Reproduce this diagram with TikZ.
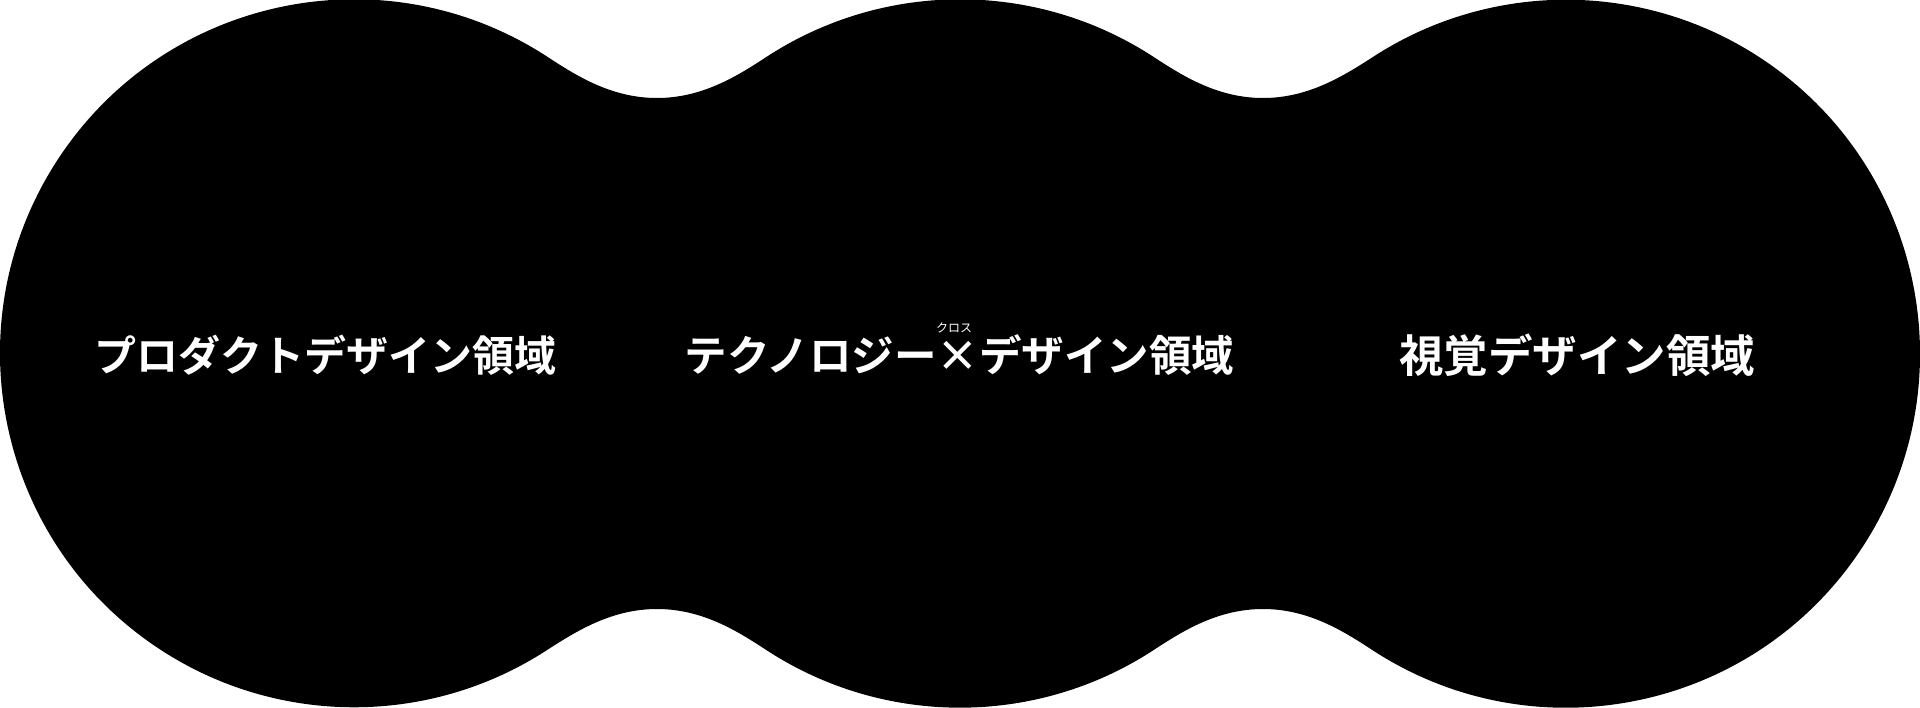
\documentclass[tikz,border=0pt]{standalone}
\usepackage{fontspec}
\newfontfamily\jpfont{Noto Sans CJK JP}[BoldFont=* Bold]
\begin{document}
\begin{tikzpicture}[x=1pt,y=1pt]
    \tikzstyle{every node}+=[inner sep=0pt, text=white]
    \tikzstyle{area}=[font=\jpfont\bfseries\fontsize{42}{42}\selectfont]
    \tikzstyle{ruby}=[font=\jpfont\fontsize{12}{12}\selectfont]
    \useasboundingbox (0,0) rectangle (1920,-707);
    \fill [white] (0,0) rectangle (1920,-707);
    \fill [black] (548,-57.2) arc (56.77:303.23:354)
        .. controls (577.3,-630.6) and (612,-609) .. (657,-609)
        .. controls (702,-609) and (736.7,-630.6) .. (766,-649.8)
        arc (236.77:303.23:354)
        .. controls (1183.3,-630.6) and (1218,-609) .. (1263,-609)
        .. controls (1308,-609) and (1342.7,-630.6) .. (1372,-649.8)
        arc (-123.23:123.23:354)
        .. controls (1342.7,-76.4) and (1308,-98) .. (1263,-98)
        .. controls (1218,-98) and (1183.3,-76.4) .. (1154,-57.2)
        arc (56.77:123.23:354)
        .. controls (736.7,-76.4) and (702,-98) .. (657,-98)
        .. controls (612,-98) and (577.3,-76.4) .. (548,-57.2) -- cycle;
    \node [area] (product) at (325.5,-355) {プロダクトデザイン領域};
    \node [area, font=\jpfont\bfseries\fontsize{42.5}{42.5}\selectfont] (techno) at (959.5,-355) {テクノロジー\makebox[1em]{×}デザイン領域};
    \node [ruby] (cross) at (954,-328) {クロス};
    \node [area, font=\jpfont\bfseries\fontsize{44.5}{44.5}\selectfont] (visual) at (1577,-355) {視覚デザイン領域};
\end{tikzpicture}
\end{document}
